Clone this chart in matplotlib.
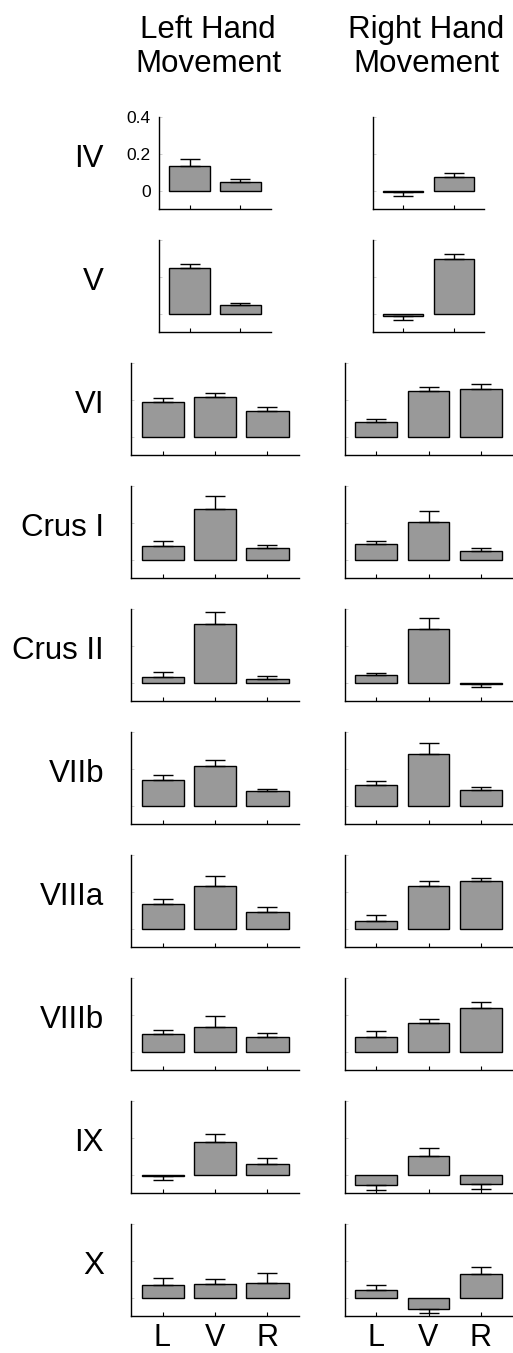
import numpy as np
import matplotlib
matplotlib.use('Agg')
import matplotlib.pyplot as plt

plt.rcParams['font.family'] = ['Liberation Sans', 'DejaVu Sans']

regions = ['IV', 'V', 'VI', 'Crus I', 'Crus II', 'VIIb', 'VIIIa', 'VIIIb', 'IX', 'X']
conditions = ['L', 'V', 'R']

# bar heights, left hand movement (IV and V only have two bars)
left_means = [
    [0.136, 0.046],
    [0.250, 0.047],
    [0.189, 0.214, 0.141],
    [0.074, 0.275, 0.062],
    [0.031, 0.319, 0.022],
    [0.141, 0.214, 0.078],
    [0.136, 0.230, 0.091],
    [0.098, 0.136, 0.080],
    [-0.005, 0.176, 0.060],
    [0.067, 0.072, 0.078]]
left_errs = [
    [0.038, 0.018],
    [0.022, 0.011],
    [0.020, 0.022, 0.020],
    [0.027, 0.069, 0.020],
    [0.025, 0.063, 0.014],
    [0.027, 0.033, 0.014],
    [0.027, 0.056, 0.027],
    [0.020, 0.058, 0.020],
    [0.026, 0.047, 0.029],
    [0.042, 0.031, 0.058]]

# right hand movement
right_means = [
    [-0.005, 0.073],
    [-0.015, 0.297],
    [0.078, 0.250, 0.261],
    [0.087, 0.207, 0.045],
    [0.040, 0.290, -0.005],
    [0.112, 0.281, 0.085],
    [0.043, 0.230, 0.257],
    [0.082, 0.154, 0.239],
    [-0.058, 0.100, -0.049],
    [0.041, -0.060, 0.127]]
right_errs = [
    [0.025, 0.025],
    [0.018, 0.029],
    [0.020, 0.022, 0.027],
    [0.013, 0.058, 0.017],
    [0.014, 0.062, 0.018],
    [0.024, 0.060, 0.016],
    [0.032, 0.031, 0.020],
    [0.032, 0.025, 0.033],
    [0.025, 0.045, 0.027],
    [0.026, 0.022, 0.041]]

W, H = 513, 1353
fig = plt.figure(figsize=(W / 100, H / 100), dpi=100)


def make_axes(left_px, top_px, width_px, height_px=92):
    return fig.add_axes([left_px / W, 1 - (top_px + height_px) / H,
                         width_px / W, height_px / H])


def draw_bars(ax, means, errs, nbar):
    x = np.arange(1, len(means) + 1)
    means = np.array(means)
    errs = np.array(errs)
    ax.bar(x, means, width=0.8, color='#999999', edgecolor='black', linewidth=1.0, zorder=2)
    lower = np.where(means < 0, errs, 0)
    upper = np.where(means >= 0, errs, 0)
    ax.errorbar(x, means, yerr=[lower, upper], fmt='none', ecolor='black',
                elinewidth=1.0, capsize=7.5, capthick=1.0, zorder=3)
    ax.set_xlim(0.4, nbar + 0.6)
    ax.set_ylim(-0.1, 0.4)
    ax.set_xticks(x)
    ax.set_yticks([0, 0.2, 0.4])
    ax.spines['top'].set_visible(False)
    ax.spines['right'].set_visible(False)
    ax.spines['left'].set_linewidth(1.0)
    ax.spines['bottom'].set_linewidth(1.0)
    ax.tick_params(axis='x', direction='in', length=3, width=0.8, labelbottom=False)
    ax.tick_params(axis='y', direction='in', length=2, width=0.5, colors='#bbbbbb',
                   labelleft=False)


for i, name in enumerate(regions):
    top = 117 + 123 * i
    n = len(left_means[i])
    if n == 2:
        axl = make_axes(159, top, 112)
        axr = make_axes(373, top, 111)
    else:
        axl = make_axes(131, top, 168)
        axr = make_axes(345, top, 167)
    draw_bars(axl, left_means[i], left_errs[i], n)
    draw_bars(axr, right_means[i], right_errs[i], n)

    fig.text(104 / W, 1 - (top + 42) / H, name, ha='right', va='center', fontsize=22.5)

    if i == 0:
        axl.tick_params(axis='y', labelleft=True, labelsize=12.5, labelcolor='black', pad=6)
        axl.set_yticklabels(['0', '0.2', '0.4'])
    if i == len(regions) - 1:
        for ax in (axl, axr):
            ax.tick_params(axis='x', labelbottom=True, labelsize=22, pad=5)
            ax.set_xticklabels(conditions)

fig.text(208 / W, 1 - 47 / H, 'Left Hand\nMovement', ha='center', va='center',
         fontsize=22.5, linespacing=1.15)
fig.text(426 / W, 1 - 47 / H, 'Right Hand\nMovement', ha='center', va='center',
         fontsize=22.5, linespacing=1.15)

fig.savefig('out.png', dpi=100)
